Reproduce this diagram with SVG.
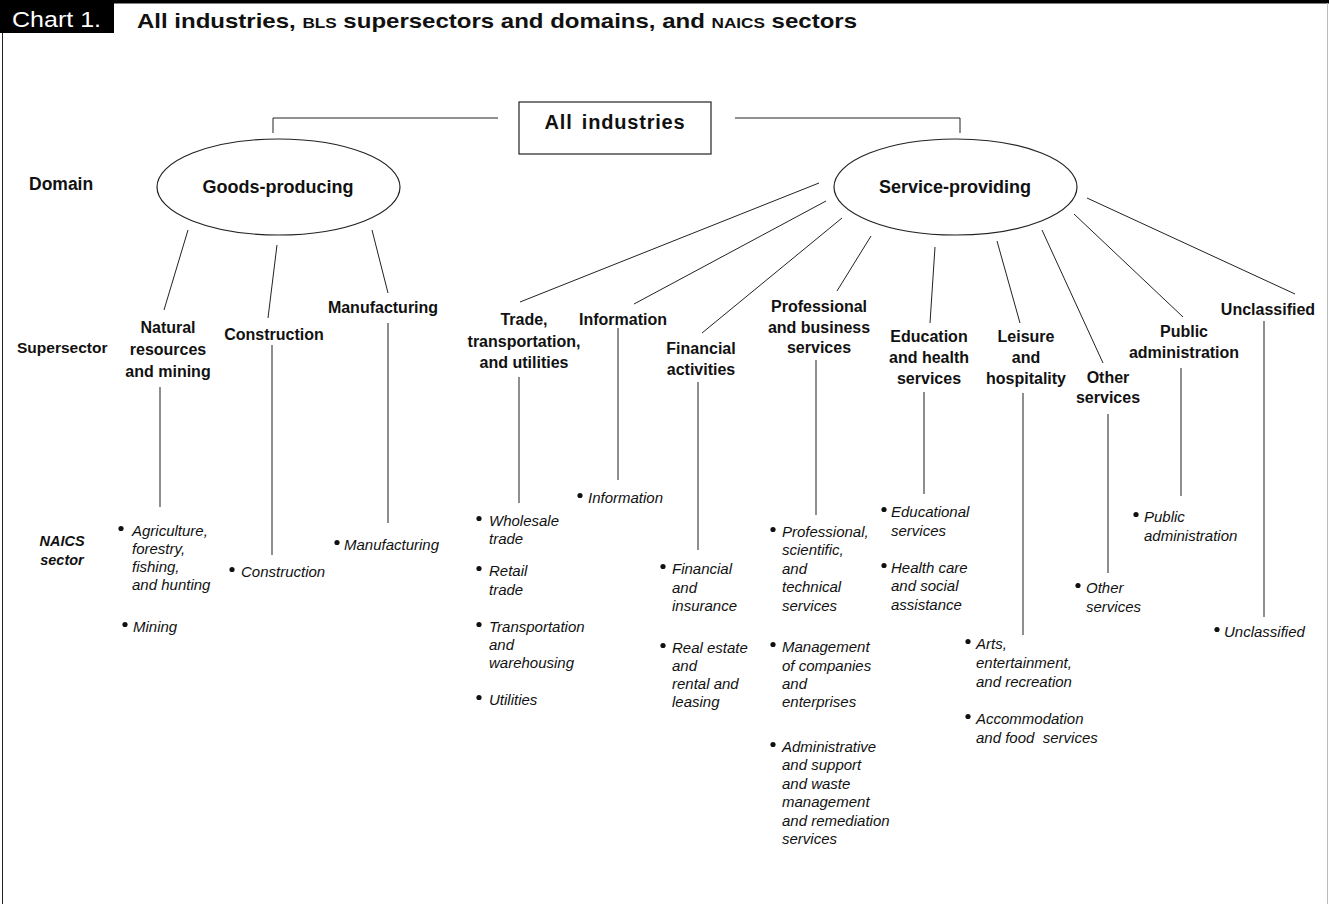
<svg xmlns="http://www.w3.org/2000/svg" width="1329" height="904" viewBox="0 0 1329 904">
<style>
  text { font-family: "Liberation Sans", Arial, sans-serif; fill: #111; }
  .dom { font-size: 18px; font-weight: bold; text-anchor: middle; }
  .sup { font-size: 16px; font-weight: bold; text-anchor: middle; }
  .row { font-size: 15.5px; font-weight: bold; }
  .nai { font-size: 15px; font-style: italic; white-space: pre; }
  .ln { stroke: #222; stroke-width: 1; fill: none; }
  .vl { stroke: #444; stroke-width: 1.2; fill: none; }
  .bul { fill: #111; }
  .shape { fill: #fff; stroke: #222; stroke-width: 1.2; }
</style>
<rect x="0" y="0" width="1329" height="904" fill="#fff"/>
<g id="frame">
  <rect x="0" y="0" width="1329" height="3.5" fill="#000"/>
  <line x1="2.5" y1="30" x2="2.5" y2="904" stroke="#222" stroke-width="1"/>
  <line x1="1327.5" y1="3" x2="1327.5" y2="904" stroke="#bbb" stroke-width="1"/>
  <rect x="0" y="0" width="114" height="33" fill="#000"/>
  <text x="12" y="27" font-size="22" textLength="89" lengthAdjust="spacingAndGlyphs" style="fill:#fff">Chart 1.</text>
  <text x="137" y="28" font-size="21" font-weight="bold" textLength="720" lengthAdjust="spacingAndGlyphs">All industries, <tspan font-size="15">BLS</tspan> supersectors and domains, and <tspan font-size="15">NAICS</tspan> sectors</text>
</g>
<g id="row-labels">
  <text class="row" x="29" y="190" style="font-size:17.5px">Domain</text>
  <text class="row" x="17" y="353">Supersector</text>
  <text class="row" x="62" y="546" text-anchor="middle" font-style="italic" style="font-size:14.5px">NAICS</text>
  <text class="row" x="62" y="565" text-anchor="middle" font-style="italic" style="font-size:14.5px">sector</text>
</g>
<g id="connectors">
  <polyline class="ln" points="498,118 273,118 273,133"/>
  <polyline class="ln" points="735,118 960,118 960,133"/>
  <line class="ln" x1="188" y1="230" x2="164" y2="310"/>
  <line class="ln" x1="277" y1="245" x2="268" y2="318"/>
  <line class="ln" x1="372" y1="230" x2="388" y2="293"/>
  <line class="ln" x1="819" y1="183" x2="520" y2="302"/>
  <line class="ln" x1="826" y1="201" x2="634" y2="304"/>
  <line class="ln" x1="842" y1="218" x2="702" y2="333"/>
  <line class="ln" x1="871" y1="236" x2="837" y2="291"/>
  <line class="ln" x1="935" y1="247" x2="930" y2="323"/>
  <line class="ln" x1="997" y1="241" x2="1020" y2="323"/>
  <line class="ln" x1="1042" y1="230" x2="1103" y2="363"/>
  <line class="ln" x1="1074" y1="214" x2="1183" y2="317"/>
  <line class="ln" x1="1087" y1="198" x2="1295" y2="294"/>
  <line class="vl" x1="160" y1="387" x2="160" y2="507"/>
  <line class="vl" x1="272" y1="345" x2="272" y2="555"/>
  <line class="vl" x1="388" y1="323" x2="388" y2="523"/>
  <line class="vl" x1="519" y1="377" x2="519" y2="503"/>
  <line class="vl" x1="618" y1="328" x2="618" y2="480"/>
  <line class="vl" x1="698" y1="382" x2="698" y2="550"/>
  <line class="vl" x1="816" y1="360" x2="816" y2="515"/>
  <line class="vl" x1="924" y1="392" x2="924" y2="494"/>
  <line class="vl" x1="1023" y1="393" x2="1023" y2="635"/>
  <line class="vl" x1="1108" y1="414" x2="1108" y2="573"/>
  <line class="vl" x1="1181" y1="368" x2="1181" y2="496"/>
  <line class="vl" x1="1264" y1="321" x2="1264" y2="617"/>
</g>
<g id="all-industries">
  <rect class="shape" x="519" y="102" width="192" height="52"/>
  <text x="615" y="129" font-size="20" font-weight="bold" text-anchor="middle" letter-spacing="0.8" word-spacing="3">All industries</text>
</g>
<g id="goods-producing">
  <ellipse class="shape" cx="278.5" cy="187" rx="121.5" ry="48"/>
  <text class="dom" x="278" y="193">Goods-producing</text>
</g>
<g id="service-providing">
  <ellipse class="shape" cx="955.5" cy="187" rx="121.5" ry="48"/>
  <text class="dom" x="955" y="193">Service-providing</text>
</g>
<g id="natural-resources">
  <text class="sup" x="168" y="333">Natural</text>
  <text class="sup" x="168" y="355">resources</text>
  <text class="sup" x="168" y="377">and mining</text>
  <circle class="bul" cx="121" cy="528.5" r="2.6"/>
  <text class="nai" x="132" y="536">Agriculture,</text>
  <text class="nai" x="132" y="554">forestry,</text>
  <text class="nai" x="132" y="572">fishing,</text>
  <text class="nai" x="132" y="590">and hunting</text>
  <circle class="bul" cx="125" cy="624.5" r="2.6"/>
  <text class="nai" x="133" y="632">Mining</text>
</g>
<g id="construction">
  <text class="sup" x="274" y="340">Construction</text>
  <circle class="bul" cx="232" cy="569.5" r="2.6"/>
  <text class="nai" x="241" y="577">Construction</text>
</g>
<g id="manufacturing">
  <text class="sup" x="383" y="313">Manufacturing</text>
  <circle class="bul" cx="337" cy="542.5" r="2.6"/>
  <text class="nai" x="344" y="550">Manufacturing</text>
</g>
<g id="trade">
  <text class="sup" x="524" y="325">Trade,</text>
  <text class="sup" x="524" y="347">transportation,</text>
  <text class="sup" x="524" y="368">and utilities</text>
  <circle class="bul" cx="479" cy="518.5" r="2.6"/>
  <text class="nai" x="489" y="526">Wholesale</text>
  <text class="nai" x="489" y="544">trade</text>
  <circle class="bul" cx="479" cy="568.5" r="2.6"/>
  <text class="nai" x="489" y="576">Retail</text>
  <text class="nai" x="489" y="595">trade</text>
  <circle class="bul" cx="479" cy="624.5" r="2.6"/>
  <text class="nai" x="489" y="632">Transportation</text>
  <text class="nai" x="489" y="650">and</text>
  <text class="nai" x="489" y="668">warehousing</text>
  <circle class="bul" cx="479" cy="697.5" r="2.6"/>
  <text class="nai" x="489" y="705">Utilities</text>
</g>
<g id="information">
  <text class="sup" x="623" y="325">Information</text>
  <circle class="bul" cx="580" cy="495.5" r="2.6"/>
  <text class="nai" x="588" y="503">Information</text>
</g>
<g id="financial">
  <text class="sup" x="701" y="354">Financial</text>
  <text class="sup" x="701" y="375">activities</text>
  <circle class="bul" cx="663" cy="566.5" r="2.6"/>
  <text class="nai" x="672" y="574">Financial</text>
  <text class="nai" x="672" y="593">and</text>
  <text class="nai" x="672" y="611">insurance</text>
  <circle class="bul" cx="663" cy="645.5" r="2.6"/>
  <text class="nai" x="672" y="653">Real estate</text>
  <text class="nai" x="672" y="671">and</text>
  <text class="nai" x="672" y="689">rental and</text>
  <text class="nai" x="672" y="707">leasing</text>
</g>
<g id="professional">
  <text class="sup" x="819" y="312">Professional</text>
  <text class="sup" x="819" y="333">and business</text>
  <text class="sup" x="819" y="353">services</text>
  <circle class="bul" cx="773" cy="529.5" r="2.6"/>
  <text class="nai" x="782" y="537">Professional,</text>
  <text class="nai" x="782" y="555">scientific,</text>
  <text class="nai" x="782" y="574">and</text>
  <text class="nai" x="782" y="592">technical</text>
  <text class="nai" x="782" y="611">services</text>
  <circle class="bul" cx="773" cy="644.5" r="2.6"/>
  <text class="nai" x="782" y="652">Management</text>
  <text class="nai" x="782" y="671">of companies</text>
  <text class="nai" x="782" y="689">and</text>
  <text class="nai" x="782" y="707">enterprises</text>
  <circle class="bul" cx="773" cy="744.5" r="2.6"/>
  <text class="nai" x="782" y="752">Administrative</text>
  <text class="nai" x="782" y="770">and support</text>
  <text class="nai" x="782" y="789">and waste</text>
  <text class="nai" x="782" y="807">management</text>
  <text class="nai" x="782" y="826">and remediation</text>
  <text class="nai" x="782" y="844">services</text>
</g>
<g id="education">
  <text class="sup" x="929" y="342">Education</text>
  <text class="sup" x="929" y="363">and health</text>
  <text class="sup" x="929" y="384">services</text>
  <circle class="bul" cx="884" cy="509.5" r="2.6"/>
  <text class="nai" x="891" y="517">Educational</text>
  <text class="nai" x="891" y="536">services</text>
  <circle class="bul" cx="884" cy="565.5" r="2.6"/>
  <text class="nai" x="891" y="573">Health care</text>
  <text class="nai" x="891" y="591">and social</text>
  <text class="nai" x="891" y="610">assistance</text>
</g>
<g id="leisure">
  <text class="sup" x="1026" y="342">Leisure</text>
  <text class="sup" x="1026" y="363">and</text>
  <text class="sup" x="1026" y="384">hospitality</text>
  <circle class="bul" cx="968" cy="641.5" r="2.6"/>
  <text class="nai" x="976" y="649">Arts,</text>
  <text class="nai" x="976" y="668">entertainment,</text>
  <text class="nai" x="976" y="687">and recreation</text>
  <circle class="bul" cx="968" cy="716.5" r="2.6"/>
  <text class="nai" x="976" y="724">Accommodation</text>
  <text class="nai" x="976" y="743">and food  services</text>
</g>
<g id="other-services">
  <text class="sup" x="1108" y="383">Other</text>
  <text class="sup" x="1108" y="403">services</text>
  <circle class="bul" cx="1078" cy="585.5" r="2.6"/>
  <text class="nai" x="1086" y="593">Other</text>
  <text class="nai" x="1086" y="612">services</text>
</g>
<g id="public-administration">
  <text class="sup" x="1184" y="337">Public</text>
  <text class="sup" x="1184" y="358">administration</text>
  <circle class="bul" cx="1136" cy="514.5" r="2.6"/>
  <text class="nai" x="1144" y="522">Public</text>
  <text class="nai" x="1144" y="541">administration</text>
</g>
<g id="unclassified">
  <text class="sup" x="1268" y="315">Unclassified</text>
  <circle class="bul" cx="1217" cy="629.5" r="2.6"/>
  <text class="nai" x="1224" y="637">Unclassified</text>
</g>
</svg>
